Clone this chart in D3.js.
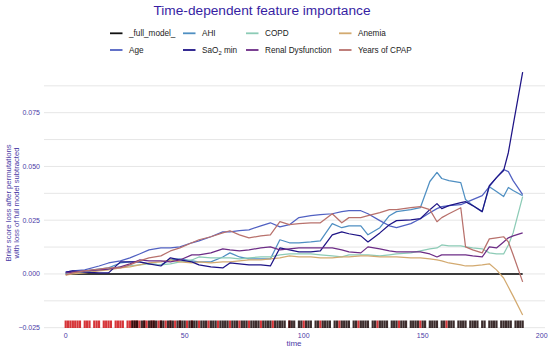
<!DOCTYPE html>
<html>
<head>
<meta charset="utf-8">
<script src="https://cdn.jsdelivr.net/npm/d3@7"></script>
<style>
  html, body { margin: 0; padding: 0; background: #fff; }
  svg { display: block; font-family: "Liberation Sans", Arial, sans-serif; }
</style>
</head>
<body>
<svg id="chart" width="550" height="349"></svg>
<script>
const times = [0,3,8,14,18,23,27,31,35,40,44,48,53,56,61,66,69,73,77,82,86,90,94,98,103,107,112,116,119,124,127,132,136,139,145,149,153,156,158,161,166,168,171,175,178,181,184,186,188,192];

const fullModel = [0,0,0,0,0,0,0,0,0,0,0,0,0,0,0,0,0,0,0,0,0,0,0,0,0,0,0,0,0,0,0,0,0,0,0,0,0,0,0,0,0,0,0,0,0,0,0,0,0,0];
const ahi = [0.0005,0.0009,0.0014,0.0023,0.0028,0.0051,0.0056,0.0056,0.0047,0.0042,0.0065,0.0070,0.0061,0.0056,0.0056,0.0079,0.0098,0.0079,0.0070,0.0070,0.0070,0.0159,0.0145,0.0145,0.0149,0.0154,0.0234,0.0215,0.0224,0.0224,0.0182,0.0215,0.0271,0.0290,0.0299,0.0308,0.0430,0.0472,0.0444,0.0434,0.0425,0.0346,0.0318,0.0290,0.0406,0.0383,0.0360,0.0402,0.0388,0.0364];
const copd = [0.0000,0.0005,0.0009,0.0019,0.0023,0.0033,0.0037,0.0042,0.0047,0.0042,0.0047,0.0056,0.0065,0.0079,0.0075,0.0075,0.0075,0.0070,0.0075,0.0079,0.0079,0.0089,0.0093,0.0093,0.0093,0.0089,0.0084,0.0079,0.0089,0.0089,0.0089,0.0084,0.0089,0.0093,0.0098,0.0107,0.0117,0.0121,0.0135,0.0131,0.0131,0.0126,0.0121,0.0117,0.0098,0.0093,0.0093,0.0135,0.0191,0.0360];
const anemia = [-0.0005,0.0000,0.0005,0.0014,0.0019,0.0028,0.0033,0.0042,0.0051,0.0056,0.0065,0.0056,0.0051,0.0056,0.0051,0.0056,0.0056,0.0061,0.0065,0.0065,0.0070,0.0075,0.0084,0.0079,0.0079,0.0075,0.0075,0.0079,0.0079,0.0084,0.0084,0.0079,0.0079,0.0079,0.0075,0.0075,0.0070,0.0065,0.0061,0.0051,0.0042,0.0037,0.0037,0.0042,0.0047,0.0019,-0.0019,-0.0061,-0.0103,-0.0191];
const age = [0.0009,0.0014,0.0019,0.0037,0.0051,0.0061,0.0075,0.0093,0.0112,0.0121,0.0121,0.0126,0.0145,0.0154,0.0173,0.0196,0.0196,0.0201,0.0205,0.0224,0.0238,0.0219,0.0229,0.0262,0.0271,0.0276,0.0280,0.0290,0.0294,0.0294,0.0280,0.0248,0.0224,0.0215,0.0234,0.0257,0.0285,0.0304,0.0313,0.0318,0.0322,0.0332,0.0346,0.0364,0.0406,0.0448,0.0486,0.0476,0.0434,0.0369];
const sao2 = [0.0009,0.0014,0.0009,0.0005,0.0005,0.0056,0.0056,0.0056,0.0047,0.0037,0.0075,0.0065,0.0056,0.0042,0.0033,0.0028,0.0051,0.0047,0.0042,0.0042,0.0037,0.0121,0.0112,0.0103,0.0103,0.0107,0.0182,0.0196,0.0187,0.0177,0.0149,0.0191,0.0229,0.0248,0.0252,0.0257,0.0299,0.0327,0.0304,0.0318,0.0332,0.0336,0.0318,0.0290,0.0411,0.0448,0.0481,0.0565,0.0691,0.0939];
const renal = [0.0005,0.0009,0.0014,0.0019,0.0023,0.0033,0.0047,0.0065,0.0061,0.0061,0.0056,0.0065,0.0089,0.0089,0.0098,0.0117,0.0112,0.0107,0.0112,0.0121,0.0126,0.0112,0.0117,0.0121,0.0121,0.0121,0.0121,0.0112,0.0103,0.0098,0.0126,0.0117,0.0107,0.0103,0.0103,0.0103,0.0093,0.0079,0.0089,0.0089,0.0089,0.0089,0.0084,0.0079,0.0126,0.0121,0.0149,0.0168,0.0177,0.0191];
const cpap = [-0.0005,0.0005,0.0014,0.0023,0.0028,0.0028,0.0042,0.0061,0.0075,0.0084,0.0107,0.0121,0.0145,0.0159,0.0173,0.0191,0.0201,0.0182,0.0168,0.0177,0.0182,0.0243,0.0229,0.0234,0.0238,0.0238,0.0280,0.0238,0.0262,0.0262,0.0271,0.0285,0.0299,0.0299,0.0308,0.0313,0.0299,0.0243,0.0262,0.0280,0.0308,0.0126,0.0112,0.0098,0.0163,0.0168,0.0173,0.0149,0.0089,-0.0037];

const eventTimes = [0,1,2,3,4,5,6,8,9,10,12,13,14,16,17,18,19,21,22,23,24,26,27,28,29,30,31,33,34,36,37,39,40,42,44,46,48,51,53,56,60,64,69,73,77,82,87,94,100,107,115,123,131,140,149,160];
const censorTimes = [28,29,30,32,33,35,36,37,38,40,41,43,44,45,47,48,49,50,52,53,54,55,57,58,59,61,62,63,65,66,67,68,70,71,72,74,75,76,78,79,80,81,83,84,85,86,88,89,90,91,92,94,95,96,98,99,101,102,103,105,106,108,109,110,111,113,114,116,117,118,119,121,122,124,125,126,127,129,130,132,133,134,135,137,138,139,141,142,143,145,146,147,148,150,151,153,154,155,156,158,159,161,162,163,165,166,167,168,170,171,172,173,175,176,178,179,180,181,183,184,185,186,187,189,190,191,192];

const xTicks = [0, 50, 100, 150, 200];
const yTicks = [-0.025, 0, 0.025, 0.05, 0.075];
const yGrid = [-0.025, -0.0125, 0, 0.0125, 0.025, 0.0375, 0.05, 0.0625, 0.075, 0.0875];

const seriesNames = ["_full_model_", "AHI", "COPD", "Anemia", "Age", "SaO2 min", "Renal Dysfunction", "Years of CPAP"];
const seriesValues = [fullModel, ahi, copd, anemia, age, sao2, renal, cpap];
const seriesColors = ["#111111", "#4f8fc2", "#8ccbb6", "#d3aa70", "#5161c2", "#1e1486", "#6c2c86", "#b8716c"];

const svg = d3.select("#chart");
const x = d3.scaleLinear().domain([0, 200]).range([65.7, 541.7]);
const y = d3.scaleLinear().domain([-0.025, 0.075]).range([327.7, 112.7]);

// gridlines
svg.append("g").selectAll("line").data(yGrid).join("line")
  .attr("x1", 44).attr("x2", 545)
  .attr("y1", d => y(d)).attr("y2", d => y(d))
  .attr("stroke", "#e6e6e6").attr("stroke-width", 1);

// y tick labels
svg.append("g").selectAll("text").data(yTicks).join("text")
  .attr("x", 40).attr("y", d => y(d)).attr("dy", "0.35em")
  .attr("text-anchor", "end").attr("font-size", 7)
  .attr("fill", "#4a3aa6")
  .text(d => d3.format(".3f")(d));

// x tick labels
svg.append("g").selectAll("text").data(xTicks).join("text")
  .attr("x", d => x(d)).attr("y", 337.5)
  .attr("text-anchor", "middle").attr("font-size", 7)
  .attr("fill", "#4a3aa6")
  .text(d => d);

// rug
const rugTop = 320.5, rugBottom = 328;
svg.append("g").selectAll("rect").data(eventTimes).join("rect")
  .attr("x", d => x(d) - 1.1).attr("width", 2.2)
  .attr("y", rugTop).attr("height", rugBottom - rugTop)
  .attr("fill", "#d11f24").attr("opacity", 0.9);
svg.append("g").selectAll("rect").data(censorTimes).join("rect")
  .attr("x", d => x(d) - 1.1).attr("width", 2.2)
  .attr("y", rugTop).attr("height", rugBottom - rugTop)
  .attr("fill", "#1a0808").attr("opacity", 0.85);

// lines
const line = d3.line().x(d => x(d[0])).y(d => y(d[1]));
seriesValues.forEach((vals, i) => {
  const pts = times.map((t, j) => [t, vals[j]]);
  svg.append("path").datum(pts)
    .attr("d", line)
    .attr("fill", "none")
    .attr("stroke", i === 0 ? "#3a3a3a" : seriesColors[i])
    .attr("stroke-width", i === 0 ? 2 : 1.25)
    .attr("stroke-linejoin", "round");
});

// title
svg.append("text").attr("x", 262).attr("y", 15)
  .attr("text-anchor", "middle").attr("font-size", 13.7)
  .attr("fill", "#371ea3").text("Time-dependent feature importance");

// legend
const colX = [110, 183, 246, 339];
const rowY = [33.3, 50];
const legendPos = [[0,0],[1,0],[2,0],[3,0],[0,1],[1,1],[2,1],[3,1]];
const lg = svg.append("g");
seriesNames.forEach((name, i) => {
  const [c, r] = legendPos[i];
  const gx = colX[c], gy = rowY[r];
  lg.append("line").attr("x1", gx).attr("x2", gx + 12.5)
    .attr("y1", gy).attr("y2", gy)
    .attr("stroke", seriesColors[i]).attr("stroke-width", 1.8);
  const t = lg.append("text").attr("x", gx + 19).attr("y", gy).attr("dy", "0.35em")
    .attr("font-size", 8.2).attr("fill", "#222");
  if (name === "SaO2 min") {
    t.append("tspan").text("SaO");
    t.append("tspan").attr("font-size", 5.8).attr("dy", "0.3em").text("2");
    t.append("tspan").attr("dy", "-0.25em").text(" min");
  } else {
    t.text(name);
  }
});

// axis titles
svg.append("text")
  .attr("transform", "translate(10.5,203) rotate(-90)")
  .attr("text-anchor", "middle").attr("font-size", 7.7)
  .attr("fill", "#4a3aa6").text("Brier score loss after permutations");
svg.append("text")
  .attr("transform", "translate(18.5,203) rotate(-90)")
  .attr("text-anchor", "middle").attr("font-size", 7.7)
  .attr("fill", "#4a3aa6").text("with loss of full model subtracted");
svg.append("text").attr("x", 294).attr("y", 345.5)
  .attr("text-anchor", "middle").attr("font-size", 8)
  .attr("fill", "#4a3aa6").text("time");
</script>
</body>
</html>
